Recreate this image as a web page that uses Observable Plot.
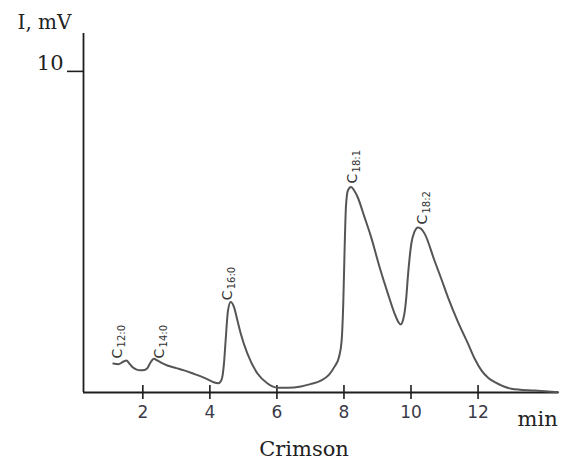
<!DOCTYPE html>
<html><head><meta charset="utf-8">
<script src="https://cdn.jsdelivr.net/npm/d3@7"></script>
<script src="https://cdn.jsdelivr.net/npm/@observablehq/plot@0.6"></script>
<style>body{margin:0;background:#fff}</style>
</head><body><div id="chart"></div>
<script>
// Retention time (min) and detector signal (mV)
const times = [1.12,1.27,1.40,1.51,1.60,1.68,1.80,1.93,2.05,2.13,2.22,2.33,2.43,2.53,2.73,3.0,3.23,3.5,3.73,3.95,4.11,4.26,4.35,4.42,4.47,4.54,4.62,4.72,4.82,4.92,5.12,5.42,5.72,6.02,6.32,6.72,7.0,7.31,7.55,7.71,7.85,7.93,7.98,8.02,8.06,8.12,8.21,8.30,8.41,8.60,8.81,9.05,9.31,9.51,9.62,9.69,9.76,9.81,9.86,9.91,9.96,10.01,10.10,10.21,10.30,10.41,10.70,10.90,11.10,11.40,11.70,11.90,12.10,12.30,12.50,12.99,13.69,14.39];
const signal = [0.90,0.88,0.95,1.00,0.90,0.80,0.72,0.69,0.70,0.75,0.92,1.05,1.00,0.94,0.84,0.76,0.69,0.59,0.50,0.40,0.32,0.29,0.40,0.90,1.62,2.55,2.82,2.66,2.25,1.84,1.21,0.59,0.28,0.15,0.15,0.19,0.26,0.37,0.55,0.79,1.10,1.60,2.80,4.50,5.80,6.30,6.40,6.30,6.08,5.50,4.84,3.95,3.08,2.46,2.20,2.12,2.25,2.50,2.97,3.65,4.21,4.64,5.00,5.14,5.10,4.94,4.11,3.55,2.97,2.20,1.52,1.05,0.69,0.46,0.32,0.12,0.06,0.01];

// Peak labels (fatty acids) and where their labels sit
const peakNames = ["12:0","14:0","16:0","18:1","18:2"];
const labelTimes = [1.24, 2.50, 4.54, 8.27, 10.34];
const labelLevels = [1.06, 1.06, 2.87, 6.51, 5.23];

const xTicks = [2, 4, 6, 8, 10, 12];
const yTicks = [10];
const xDomain = [0.23, 14.4];
const yDomain = [0, 11.18];

const axisColor = "#1e1e1e";
const serif = "'DejaVu Serif', 'Liberation Serif', serif";
const sans = "'DejaVu Sans', sans-serif";

const chart = Plot.plot({
  width: 580,
  height: 470,
  marginLeft: 83,
  marginRight: 22,
  marginTop: 33,
  marginBottom: 78,
  x: {domain: xDomain},
  y: {domain: yDomain},
  style: {background: "white", overflow: "visible"},
  marks: [
    Plot.ruleY([0], {stroke: axisColor, strokeWidth: 1.8}),
    Plot.ruleX([xDomain[0]], {stroke: axisColor, strokeWidth: 1.8}),
    Plot.axisX({ticks: xTicks, tickSize: 14, dy: -7, tickFormat: () => "", stroke: axisColor, strokeWidth: 1.6, label: null}),
    Plot.axisX({ticks: xTicks, tickSize: 0, tickPadding: 13, fontSize: 17, fontFamily: sans, fill: "#3a3a48", label: null}),
    Plot.axisY({ticks: yTicks, tickSize: 16, tickFormat: () => "", stroke: axisColor, strokeWidth: 1.6, label: null}),
    Plot.axisY({ticks: yTicks, tickSize: 0, tickPadding: 20, dy: -8, fontSize: 21, fontFamily: serif, fill: "#222", label: null}),
    Plot.line(signal, {x: times, y: signal, curve: "monotone-x", stroke: "#555", strokeWidth: 2}),
    Plot.text(peakNames, {x: labelTimes, y: labelLevels, text: () => "C", rotate: -90, textAnchor: "start", fontSize: 14, fontFamily: sans, fill: "#333"}),
    Plot.text(peakNames, {x: labelTimes, y: labelLevels, text: d => d, rotate: -90, textAnchor: "start", fontSize: 10, fontFamily: sans, fill: "#333", dx: 4, dy: -11}),
    Plot.text(["I, mV"], {frameAnchor: "top-left", textAnchor: "start", lineAnchor: "middle", dx: -66, dy: -11, fontSize: 20, fontFamily: serif, fill: "#222"}),
    Plot.text(["min"], {frameAnchor: "bottom-right", textAnchor: "start", lineAnchor: "middle", dx: -41, dy: 27, fontSize: 21, fontFamily: serif, fill: "#222"}),
    Plot.text(["Crimson"], {frameAnchor: "bottom", textAnchor: "middle", lineAnchor: "middle", dx: -17, dy: 57, fontSize: 21, fontFamily: serif, fill: "#222"})
  ]
});
document.getElementById("chart").appendChild(chart);
</script>
</body></html>
